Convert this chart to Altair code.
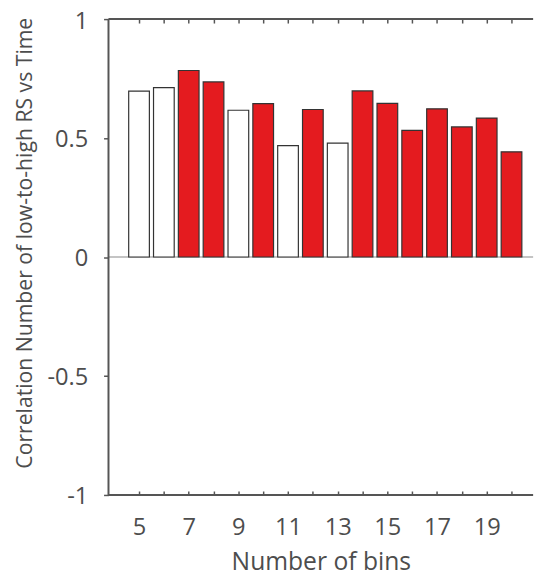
import altair as alt
import pandas as pd

bins = list(range(5, 21))
corr = [0.697, 0.712, 0.784, 0.736, 0.617, 0.645, 0.468, 0.620,
        0.479, 0.698, 0.646, 0.532, 0.623, 0.547, 0.584, 0.442]
significant = ["no", "no", "yes", "yes", "no", "yes", "no", "yes",
               "no", "yes", "yes", "yes", "yes", "yes", "yes", "yes"]
y_ticks = [-1, -0.5, 0, 0.5, 1]
x_min, x_max = 3.77, 20.87
y_min, y_max = -1, 1

FONT = "Open Sans"
TXT = "#4d4d4d"
FRAME = "#555555"

df = pd.DataFrame({"bins": bins, "corr": corr, "sig": significant})

xscale = alt.Scale(domain=[x_min, x_max], nice=False, zero=False)
yscale = alt.Scale(domain=[y_min, y_max], nice=False)

bars = alt.Chart(df).mark_bar(size=21, stroke="#333333", strokeWidth=1.2).encode(
    x=alt.X("bins:Q", scale=xscale,
            axis=alt.Axis(values=bins, labelExpr="datum.value % 2 == 1 ? datum.label : ''",
                          tickSize=4, offset=-4, domain=False, grid=False,
                          tickColor=FRAME, tickWidth=1.5,
                          labelPadding=21, labelFontSize=24, labelFont=FONT, labelColor=TXT,
                          title="Number of bins", titleFontSize=25, titleFont=FONT,
                          titleColor=TXT, titleFontWeight="normal", titlePadding=11)),
    y=alt.Y("corr:Q", scale=yscale,
            axis=alt.Axis(values=y_ticks, labelExpr="toString(datum.value)",
                          tickSize=5, offset=-5, domain=False, grid=False,
                          tickColor=FRAME, tickWidth=1.5,
                          labelOffset={"condition": {"test": "datum.value == 1", "value": 3},
                                       "value": 2},
                          labelPadding=16, labelFontSize=24, labelFont=FONT, labelColor=TXT,
                          title="Correlation Number of low-to-high RS vs Time",
                          titleFontSize=21.5, titleFont=FONT, titleColor=TXT,
                          titleFontWeight="normal", titlePadding=11, titleY=227)),
    y2=alt.datum(0),
    fill=alt.Fill("sig:N", scale=alt.Scale(domain=["no", "yes"], range=["#ffffff", "#e41b1f"]),
                  legend=None),
)

zero = alt.Chart(pd.DataFrame({"y": [0], "x": [x_min], "x2": [x_max]})).mark_rule(
    color="#8a8a8a", strokeWidth=1.2).encode(
    x=alt.X("x:Q", scale=xscale, axis=None), x2="x2",
    y=alt.Y("y:Q", scale=yscale, axis=None))

top = alt.Chart(pd.DataFrame({"y": [y_max], "x": [x_min], "x2": [x_max]})).mark_rule(
    color=FRAME, strokeWidth=2).encode(
    x=alt.X("x:Q", scale=xscale,
            axis=alt.Axis(orient="top", values=bins, labels=False, tickSize=4, offset=-4,
                          domain=False, grid=False, tickColor=FRAME, tickWidth=1.5, title=None)),
    x2="x2",
    y=alt.Y("y:Q", scale=yscale, axis=None))

bottom = alt.Chart(pd.DataFrame({"y": [y_min], "x": [x_min], "x2": [x_max]})).mark_rule(
    color=FRAME, strokeWidth=2).encode(
    x=alt.X("x:Q", scale=xscale, axis=None), x2="x2",
    y=alt.Y("y:Q", scale=yscale, axis=None))

left = alt.Chart(pd.DataFrame({"x": [x_min], "y": [y_min], "y2": [y_max]})).mark_rule(
    color=FRAME, strokeWidth=2).encode(
    x=alt.X("x:Q", scale=xscale, axis=None),
    y=alt.Y("y:Q", scale=yscale, axis=None), y2="y2")

chart = alt.layer(zero, bars, top, bottom, left).resolve_axis(
    x="independent", y="independent"
).properties(
    width=441, height=483,
    autosize=alt.AutoSizeParams(type="none"),
    padding={"left": 97, "top": 7, "right": 3, "bottom": 78},
).configure_view(stroke=None)

chart.save("out.html", embed_options={"renderer": "svg", "actions": False})
